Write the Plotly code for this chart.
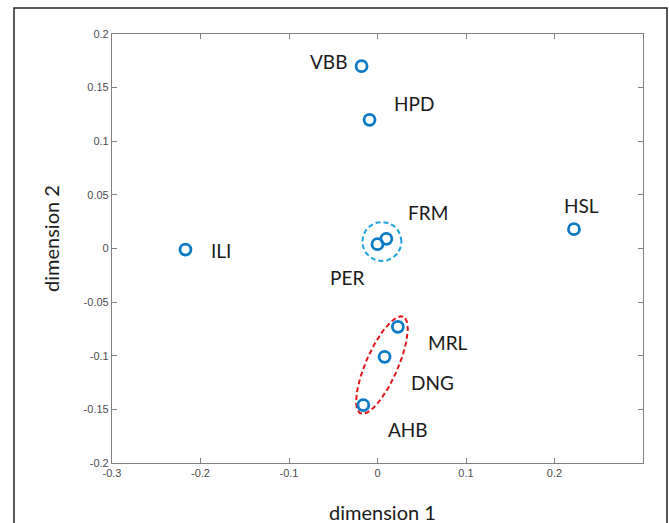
import numpy as np
import plotly.graph_objects as go

names = ["VBB", "HPD", "FRM", "PER", "HSL", "ILI", "MRL", "DNG", "AHB"]
dim1 = [-0.018, -0.009, 0.010, 0.000, 0.222, -0.217, 0.023, 0.008, -0.016]
dim2 = [0.170, 0.120, 0.009, 0.004, 0.018, -0.001, -0.073, -0.101, -0.146]
# label offsets in pixels (dx, dy screen)
label_dx = [-33, 44, 42, -31, 8, 36, 50, 48, 45]
label_dy = [-5, -16, -26, 33, -24, 1, 16, 26, 24]

xtick_vals = [-0.3, -0.2, -0.1, 0, 0.1, 0.2]
xtick_text = ["-0.3", "-0.2", "-0.1", "0", "0.1", "0.2"]
ytick_vals = [-0.2, -0.15, -0.1, -0.05, 0, 0.05, 0.1, 0.15, 0.2]
ytick_text = ["-0.2", "-0.15", "-0.1", "-0.05", "0", "0.05", "0.1", "0.15", "0.2"]

x_title = "dimension 1"
y_title = "dimension 2"

cluster_blue = ["FRM", "PER"]
cluster_red = ["MRL", "DNG", "AHB"]

W, H = 669, 523
ML, MR, MT, MB = 112, 26, 34, 60
xr = [-0.3, 0.3]
yr = [-0.2, 0.2]
pw, ph = W - ML - MR, H - MT - MB
kx = pw / (xr[1] - xr[0])
ky = ph / (yr[1] - yr[0])

def px2paper_x(px):
    return (px - ML) / pw

def px2paper_y(py):
    return (H - MB - py) / ph

fig = go.Figure()

def ellipse(cx, cy, a, b, ang, n=200):
    t = np.linspace(0, 2 * np.pi, n)
    px = a * np.cos(t) * np.cos(ang) - b * np.sin(t) * np.sin(ang)
    py = a * np.cos(t) * np.sin(ang) + b * np.sin(t) * np.cos(ang)
    return cx + px / kx, cy + py / ky

idx = {n: i for i, n in enumerate(names)}
# blue circle
bx = np.mean([dim1[idx[n]] for n in cluster_blue])
by = np.mean([dim2[idx[n]] for n in cluster_blue])
ex, ey = ellipse(bx, by, 19.5, 19.5, 0)
fig.add_trace(go.Scatter(x=ex, y=ey, mode="lines",
                         line=dict(color="#1fa2e0", width=2, dash="5px,3px"),
                         hoverinfo="skip", showlegend=False))
# red ellipse
rx = np.mean([dim1[idx[n]] for n in cluster_red])
ry = np.mean([dim2[idx[n]] for n in cluster_red])
p0 = (dim1[idx["AHB"]] * kx, dim2[idx["AHB"]] * ky)
p1 = (dim1[idx["MRL"]] * kx, dim2[idx["MRL"]] * ky)
ang = np.arctan2(p1[1] - p0[1], p1[0] - p0[0])
half = np.hypot(p1[0] - p0[0], p1[1] - p0[1]) / 2 + 10
ex, ey = ellipse(rx, ry - 0.002, half, 16, ang)
fig.add_trace(go.Scatter(x=ex, y=ey, mode="lines",
                         line=dict(color="#e0161b", width=2, dash="5px,3px"),
                         hoverinfo="skip", showlegend=False))

fig.add_trace(go.Scatter(x=dim1, y=dim2, mode="markers",
                         marker=dict(symbol="circle-open", size=11, color="#0a7ac6",
                                     line=dict(width=2.8, color="#0a7ac6")),
                         showlegend=False))

for n, x, y, dx, dy in zip(names, dim1, dim2, label_dx, label_dy):
    fig.add_annotation(x=x, y=y, text=n, showarrow=True, arrowcolor="rgba(0,0,0,0)",
                       ax=dx, ay=dy, font=dict(family="Lato", size=19, color="#1a1a1a"))

fig.add_annotation(xref="paper", yref="paper", x=px2paper_x(382.5), y=px2paper_y(512),
                   text=x_title, showarrow=False, xanchor="center", yanchor="middle",
                   font=dict(family="Lato", size=20, color="#1a1a1a"))
fig.add_annotation(xref="paper", yref="paper", x=px2paper_x(51), y=px2paper_y(239),
                   text=y_title, showarrow=False, xanchor="center", yanchor="middle",
                   textangle=-90, font=dict(family="Lato", size=20, color="#1a1a1a"))

axis_common = dict(showgrid=False, zeroline=False, showline=True, linecolor="#808080",
                   linewidth=1.2, mirror="ticks", ticks="inside", ticklen=5,
                   tickcolor="#808080", tickwidth=1, automargin=False,
                   tickfont=dict(family="Liberation Sans", size=11, color="#4d4d4d"))

fig.update_layout(
    width=W, height=H,
    margin=dict(l=ML, r=MR, t=MT, b=MB),
    paper_bgcolor="white", plot_bgcolor="white",
    xaxis=dict(range=xr, tickvals=xtick_vals, ticktext=xtick_text, **axis_common),
    yaxis=dict(range=yr, tickvals=ytick_vals, ticktext=ytick_text, **axis_common),
)

fig.add_shape(type="rect", xref="paper", yref="paper",
              x0=px2paper_x(14), x1=px2paper_x(667),
              y0=px2paper_y(540), y1=px2paper_y(8),
              line=dict(color="#222222", width=1.5), fillcolor="rgba(0,0,0,0)", layer="below")

fig.write_html("out.html", config={"displayModeBar": False},
               post_script="document.body.style.margin='0';document.body.style.overflow='hidden';")
